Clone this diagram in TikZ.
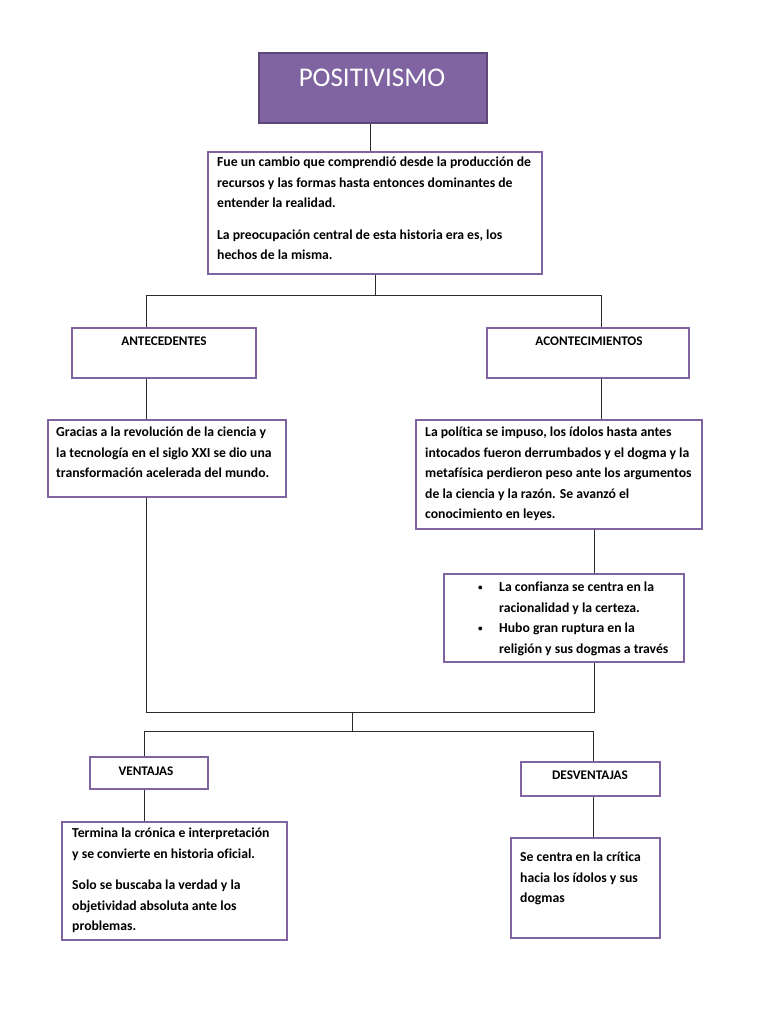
\documentclass[tikz,border=0pt]{standalone}
\usepackage{fontspec}
\setmainfont{Carlito}[Ligatures=NoCommon]
\definecolor{purp}{HTML}{8064A2}
\definecolor{purpdark}{HTML}{5C4776}
\definecolor{linec}{HTML}{2B2B2B}
\newcommand{\mybul}{\makebox[23pt][l]{\hspace*{2pt}\raisebox{1pt}{\fontsize{9}{9}\selectfont\textbullet}}}
\tikzset{
  box/.style={draw=purp, line width=1.1pt, rectangle, inner sep=0pt},
  titlebox/.style={draw=purpdark, fill=purp, line width=1.6pt, rectangle, inner sep=0pt},
  txt/.style={anchor=north west, inner sep=0pt, align=left, font=\fontsize{13.7}{20.5}\selectfont\bfseries, text=black},
  lbl/.style={inner sep=0pt, font=\fontsize{13.2}{14}\selectfont\bfseries, text=black},
  conn/.style={draw=linec, line width=1pt},
}
\begin{document}
\begin{tikzpicture}[x=1pt,y=-1pt]
\useasboundingbox[fill=white] (0,0) rectangle (768,1024);

% boxes
\node[titlebox, minimum width=228pt, minimum height=70pt] (title) at (373,88) {};
\node[inner sep=0pt, text=white, font=\fontsize{27}{30}\selectfont] (titletxt) at (372,78) {POSITIVISMO};

\node[box, minimum width=334pt, minimum height=122pt] (top) at (375,213) {};
\node[txt] (toptxt) at (217,157) {Fue un cambio que comprendió desde la producción de\\recursos y las formas hasta entonces dominantes de\\entender la realidad.\\[11pt]La preocupación central de esta historia era es, los\\hechos de la misma.};

\node[box, minimum width=184pt, minimum height=50pt] (ant) at (164,353) {};
\node[lbl] (anttxt) at (164,341) {ANTECEDENTES};
\node[box, minimum width=202pt, minimum height=50pt] (aco) at (588,353) {};
\node[lbl] (acotxt) at (589,341) {ACONTECIMIENTOS};

\node[box, minimum width=238pt, minimum height=77pt] (lt) at (167,458.5) {};
\node[txt] (lttxt) at (56,427) {Gracias a la revolución de la ciencia y\\la tecnología en el siglo XXI se dio una\\transformación acelerada del mundo.};

\node[box, minimum width=286pt, minimum height=109pt] (rt) at (559,474.5) {};
\node[txt] (rttxt) at (425,427) {La política se impuso, los ídolos hasta antes\\intocados fueron derrumbados y el dogma y la\\metafísica perdieron peso ante los argumentos\\de la ciencia y la razón. Se avanzó el\\conocimiento en leyes.};

\node[box, minimum width=240pt, minimum height=88pt] (bul) at (564,618) {};
\node[txt] (bultxt) at (476,582) {\mybul La confianza se centra en la\\\hspace*{23pt}racionalidad y la certeza.\\\mybul Hubo gran ruptura en la\\\hspace*{23pt}religión y sus dogmas a través};

\node[box, minimum width=118pt, minimum height=32pt] (ven) at (149,773) {};
\node[lbl] (ventxt) at (146,771) {VENTAJAS};
\node[box, minimum width=139pt, minimum height=34pt] (des) at (590.5,779) {};
\node[lbl] (destxt) at (590,775) {DESVENTAJAS};

\node[box, minimum width=225pt, minimum height=118pt] (bl) at (174.5,881) {};
\node[txt] (bltxt) at (72,828) {Termina la crónica e interpretación\\y se convierte en historia oficial.\\[11pt]Solo se buscaba la verdad y la\\objetividad absoluta ante los\\problemas.};

\node[box, minimum width=149pt, minimum height=100pt] (brb) at (585.5,888) {};
\node[txt] (brtxt) at (520,852) {Se centra en la crítica\\hacia los ídolos y sus\\dogmas};

% junction coordinates
\coordinate (jl) at (146,295);
\coordinate (jr) at (601,295);
\coordinate (kl) at (146,712);
\coordinate (kr) at (594,712);
\coordinate (km) at (352,712);
\coordinate (cm) at (352,731);
\coordinate (cl) at (144,731);
\coordinate (cr) at (593,731);

% connectors
\draw[conn] (title.south -| 370,0) -- (top.north -| 370,0);
\draw[conn] (top.south) -- (top.south |- jl);
\draw[conn] (ant.north -| jl) -- (jl) -- (jr) -- (aco.north -| jr);
\draw[conn] (ant.south -| jl) -- (lt.north -| jl);
\draw[conn] (aco.south -| jr) -- (rt.north -| jr);
\draw[conn] (lt.south -| kl) -- (kl) -- (kr) -- (bul.south -| kr);
\draw[conn] (rt.south -| kr) -- (bul.north -| kr);
\draw[conn] (km) -- (cm);
\draw[conn] (ven.north -| cl) -- (cl) -- (cr) -- (des.north -| cr);
\draw[conn] (ven.south -| cl) -- (bl.north -| cl);
\draw[conn] (des.south -| cr) -- (brb.north -| cr);
\end{tikzpicture}
\end{document}
